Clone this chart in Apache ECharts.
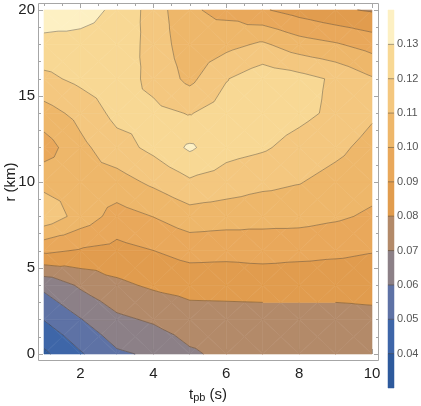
<!DOCTYPE html>
<html>
<head>
<meta charset="utf-8">
<script src="https://cdn.jsdelivr.net/npm/echarts@6/dist/echarts.min.js"></script>
<style>
  html, body { margin: 0; padding: 0; background: #fff; }
  #main { width: 421px; height: 406px; }
</style>
</head>
<body>
<div id="main"></div>
<script>
// grid nodes
const tpb = [1, 2, 3, 4, 5, 6, 7, 8, 9, 10];
const rKm = [0, 2, 4, 6, 8, 10, 12, 14, 16, 18, 20];

// value at each r (0..20) for one t_pb column
const col_t1 = [0.038, 0.0503, 0.0625, 0.092, 0.117, 0.107, 0.095, 0.106, 0.1175, 0.1275, 0.135];
const col_t2 = [0.049, 0.0595, 0.0715, 0.089, 0.106, 0.1065, 0.1075, 0.113, 0.1225, 0.1275, 0.133];
const col_t3 = [0.0585, 0.068, 0.078, 0.087, 0.096, 0.106, 0.116, 0.123, 0.1255, 0.127, 0.1285];
const col_t4 = [0.0615, 0.0713, 0.0815, 0.0899, 0.1002, 0.112, 0.1225, 0.1225, 0.117, 0.116, 0.1155];
const col_t5 = [0.0685, 0.0755, 0.0835, 0.0935, 0.1057, 0.1185, 0.1315, 0.1195, 0.1075, 0.104, 0.1015];
const col_t6 = [0.0725, 0.076, 0.0835, 0.093, 0.1045, 0.1155, 0.1235, 0.1245, 0.1195, 0.107, 0.097];
const col_t7 = [0.074, 0.0765, 0.0835, 0.094, 0.1035, 0.1125, 0.1212, 0.1255, 0.1262, 0.1115, 0.091];
const col_t8 = [0.0745, 0.0765, 0.0835, 0.093, 0.1035, 0.1105, 0.1165, 0.1225, 0.1235, 0.1045, 0.086];
const col_t9 = [0.075, 0.0765, 0.0835, 0.092, 0.1015, 0.1065, 0.1125, 0.118, 0.1185, 0.101, 0.0815];
const col_t10 = [0.0755, 0.0775, 0.0835, 0.0905, 0.0985, 0.1035, 0.1065, 0.1115, 0.111, 0.096, 0.079];
const columns = [col_t1, col_t2, col_t3, col_t4, col_t5, col_t6, col_t7, col_t8, col_t9, col_t10];

// contour levels and band colours
const levels = [0.03, 0.04, 0.05, 0.06, 0.07, 0.08, 0.09, 0.10, 0.11, 0.12, 0.13, 0.14];
const bandColors = ["#2e5a9c", "#3e66a8", "#5e72a5", "#8c8087", "#b38a69", "#e19c4e",
  "#e9a85b", "#eeb76a", "#f4c77f", "#f8d894", "#fdf0c3"];

const xMajor = [2, 4, 6, 8, 10];
const xMinor = [1, 1.5, 2.5, 3, 3.5, 4.5, 5, 5.5, 6.5, 7, 7.5, 8.5, 9, 9.5];
const barTicks = [0.04, 0.05, 0.06, 0.07, 0.08, 0.09, 0.10, 0.11, 0.12, 0.13];

// one data item per grid cell: x0, y0, x1, y1, v00, v10, v11, v01
let cells = [];
for (let i = 0; i < tpb.length - 1; i++) {
  for (let j = 0; j < rKm.length - 1; j++) {
    cells.push([tpb[i], rKm[j], tpb[i + 1], rKm[j + 1],
      columns[i][j], columns[i + 1][j], columns[i + 1][j + 1], columns[i][j + 1]]);
  }
}
let bands = [];
for (let k = 0; k < levels.length - 1; k++) {
  bands.push([0, levels[k], 1, levels[k + 1], k]);
}

// clip polygon (points [x, y, v]) to v >= lv (above) or v <= lv
function clipPoly(poly, lv, above) {
  let out = [];
  for (let i = 0; i < poly.length; i++) {
    let a = poly[i], b = poly[(i + 1) % poly.length];
    let ina = above ? a[2] >= lv : a[2] <= lv;
    let inb = above ? b[2] >= lv : b[2] <= lv;
    if (ina) out.push(a);
    if (ina !== inb) {
      let t = (lv - a[2]) / (b[2] - a[2]);
      out.push([a[0] + t * (b[0] - a[0]), a[1] + t * (b[1] - a[1]), lv]);
    }
  }
  return out;
}

function cellTriangles(api) {
  let x0 = api.value(0), y0 = api.value(1), x1 = api.value(2), y1 = api.value(3);
  let p = [[x0, y0, api.value(4)], [x1, y0, api.value(5)], [x1, y1, api.value(6)], [x0, y1, api.value(7)]];
  let c = [(x0 + x1) / 2, (y0 + y1) / 2, (p[0][2] + p[1][2] + p[2][2] + p[3][2]) / 4];
  return [[c, p[0], p[1]], [c, p[1], p[2]], [c, p[2], p[3]], [c, p[3], p[0]]];
}

function renderFill(params, api) {
  let children = [];
  cellTriangles(api).forEach(function (tri) {
    for (let k = 0; k < levels.length - 1; k++) {
      let poly = clipPoly(tri, k === 0 ? -1 : levels[k], true);
      poly = clipPoly(poly, k === levels.length - 2 ? 1 : levels[k + 1], false);
      if (poly.length < 3) continue;
      children.push({
        type: "polygon",
        shape: { points: poly.map(function (q) { return api.coord([q[0], q[1]]); }) },
        style: { fill: bandColors[k], stroke: bandColors[k], lineWidth: 0.6 },
      });
    }
  });
  return { type: "group", children: children };
}

function renderLines(params, api) {
  let children = [];
  cellTriangles(api).forEach(function (tri) {
    for (let k = 1; k < levels.length - 1; k++) {
      let lv = levels[k];
      let pts = [];
      for (let e = 0; e < 3; e++) {
        let a = tri[e], b = tri[(e + 1) % 3];
        if ((a[2] - lv) * (b[2] - lv) < 0) {
          let t = (lv - a[2]) / (b[2] - a[2]);
          pts.push(api.coord([a[0] + t * (b[0] - a[0]), a[1] + t * (b[1] - a[1])]));
        }
      }
      if (pts.length === 2) {
        children.push({
          type: "line",
          shape: { x1: pts[0][0], y1: pts[0][1], x2: pts[1][0], y2: pts[1][1] },
          style: { stroke: "rgba(60, 50, 40, 0.5)", lineWidth: 0.8 },
        });
      }
    }
  });
  return { type: "group", children: children };
}

function renderBar(params, api) {
  let a = api.coord([api.value(0), api.value(1)]);
  let b = api.coord([api.value(2), api.value(3)]);
  let k = api.value(4);
  let children = [{
    type: "rect",
    shape: { x: a[0], y: b[1], width: b[0] - a[0], height: a[1] - b[1] },
    style: { fill: bandColors[k], stroke: bandColors[k], lineWidth: 0.5 },
  }];
  if (k > 0) {
    children.push({
      type: "line",
      shape: { x1: a[0], y1: a[1], x2: b[0], y2: a[1] },
      style: { stroke: "rgba(60, 50, 40, 0.45)", lineWidth: 1 },
    });
  }
  return { type: "group", children: children };
}

const frameColor = "#a6a6a6";
const tickFont = { fontFamily: "Liberation Sans", fontSize: 15, color: "#222" };

let chart = echarts.init(document.getElementById("main"));
let option = {
  animation: false,
  backgroundColor: "#fff",
  graphic: [
    {
      type: "rect",
      shape: { x: 38.5, y: 3.5, width: 340, height: 357 },
      style: { fill: "none", stroke: frameColor, lineWidth: 1 },
      z: 10,
    },
  ],
  grid: [
    { left: 44, top: 10, width: 328, height: 344, outerBoundsMode: "none", containLabel: false },
    { left: 388, top: 10, width: 6, height: 378, outerBoundsMode: "none", containLabel: false },
  ],
  xAxis: [
    {
      gridIndex: 0, type: "value", min: 1, max: 10, position: "bottom", offset: 7,
      axisLine: { show: false },
      axisTick: { inside: true, length: 5, customValues: xMajor, lineStyle: { color: frameColor } },
      axisLabel: Object.assign({ customValues: xMajor, margin: 5 }, tickFont),
      splitLine: { show: false },
      name: "{t|t}{sub|pb}{t| (s)}",
      nameLocation: "middle",
      nameGap: 25,
      nameTextStyle: {
        rich: {
          t: { fontFamily: "Liberation Sans", fontSize: 15, color: "#222" },
          sub: { fontFamily: "Liberation Sans", fontSize: 11, color: "#222", verticalAlign: "bottom", padding: [6, 0, 0, 0] },
        },
      },
    },
    {
      gridIndex: 0, type: "value", min: 1, max: 10, position: "bottom", offset: 7,
      axisLine: { show: false },
      axisTick: { inside: true, length: 3, customValues: xMinor, lineStyle: { color: frameColor } },
      axisLabel: { show: false },
      splitLine: { show: false },
    },
    {
      gridIndex: 0, type: "value", min: 1, max: 10, position: "top", offset: 7,
      axisLine: { show: false },
      axisTick: { inside: true, length: 5, customValues: xMajor, lineStyle: { color: frameColor } },
      axisLabel: { show: false },
      splitLine: { show: false },
    },
    {
      gridIndex: 0, type: "value", min: 1, max: 10, position: "top", offset: 7,
      axisLine: { show: false },
      axisTick: { inside: true, length: 3, customValues: xMinor, lineStyle: { color: frameColor } },
      axisLabel: { show: false },
      splitLine: { show: false },
    },
    { gridIndex: 1, type: "value", min: 0, max: 1, show: false },
  ],
  yAxis: [
    {
      gridIndex: 0, type: "value", min: 0, max: 20, interval: 5, position: "left", offset: 6,
      axisLine: { show: false },
      axisTick: { inside: true, length: 5, lineStyle: { color: frameColor } },
      minorTick: { show: true, splitNumber: 5, length: 3, lineStyle: { color: frameColor } },
      axisLabel: Object.assign({ margin: 3 }, tickFont),
      splitLine: { show: false },
      name: "r (km)",
      nameLocation: "middle",
      nameGap: 20,
      nameMoveOverlap: false,
      nameTextStyle: { fontFamily: "Liberation Sans", fontSize: 15, color: "#222" },
    },
    {
      gridIndex: 0, type: "value", min: 0, max: 20, interval: 5, position: "right", offset: 7,
      axisLine: { show: false },
      axisTick: { inside: true, length: 5, lineStyle: { color: frameColor } },
      minorTick: { show: true, splitNumber: 5, length: 3, lineStyle: { color: frameColor } },
      axisLabel: { show: false },
      splitLine: { show: false },
    },
    {
      gridIndex: 1, type: "value", min: 0.03, max: 0.14, position: "right",
      axisLine: { show: false },
      axisTick: { show: true, length: 2, customValues: barTicks, lineStyle: { color: "#888" } },
      axisLabel: {
        customValues: barTicks, margin: 3,
        fontFamily: "Liberation Sans", fontSize: 11, color: "#555",
        formatter: function (v) { return v.toFixed(2); },
      },
      splitLine: { show: false },
    },
  ],
  series: [
    {
      type: "custom", xAxisIndex: 0, yAxisIndex: 0,
      renderItem: renderFill, data: cells,
      encode: { x: [0, 2], y: [1, 3] }, z: 1, silent: true,
    },
    {
      type: "custom", xAxisIndex: 0, yAxisIndex: 0,
      renderItem: renderLines, data: cells,
      encode: { x: [0, 2], y: [1, 3] }, z: 2, silent: true,
    },
    {
      type: "custom", xAxisIndex: 4, yAxisIndex: 2,
      renderItem: renderBar, data: bands,
      encode: { x: [0, 2], y: [1, 3] }, z: 1, silent: true,
    },
  ],
};
chart.setOption(option);
</script>
</body>
</html>
